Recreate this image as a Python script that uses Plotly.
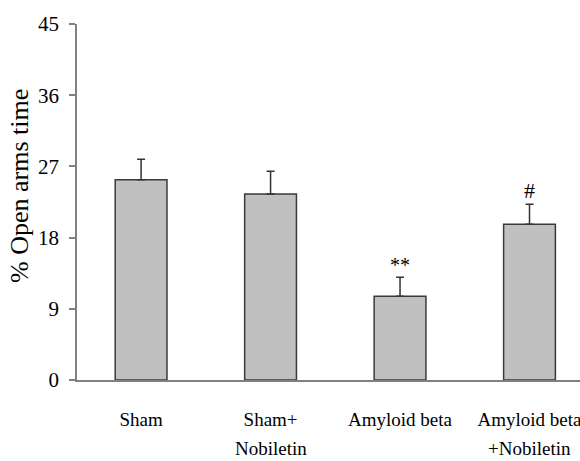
import plotly.graph_objects as go

categories = ["Sham", "Sham+", "Amyloid beta", "Amyloid beta"]
second_lines = ["", "Nobiletin", "", "+Nobiletin"]
values = [25.3, 23.5, 10.6, 19.7]
errors = [2.6, 2.9, 2.4, 2.5]
markers = ["", "", "**", "#"]
y_ticks = [0, 9, 18, 27, 36, 45]
y_title = "% Open arms time"

FONT = "Liberation Serif, Times New Roman, serif"
xs = list(range(len(categories)))

fig = go.Figure()
fig.add_trace(go.Bar(
    x=xs, y=values, width=0.40,
    marker=dict(color="#c0c0c0", line=dict(color="#3a3a3a", width=1.5)),
    error_y=dict(type="data", symmetric=False, array=errors,
                 arrayminus=[0] * len(errors),
                 color="#333333", thickness=1.5, width=4),
    showlegend=False,
))

annotations = []
for i, (m, v, e) in enumerate(zip(markers, values, errors)):
    if m:
        annotations.append(dict(
            x=i, y=v + e, xref="x", yref="y", text=m, showarrow=False,
            yanchor="bottom", yshift=-1,
            font=dict(family=FONT, size=22 if m == "#" else 20, color="black"),
        ))
for i, s in enumerate(second_lines):
    if s:
        annotations.append(dict(
            x=i, y=0, xref="x", yref="y", text=s, showarrow=False,
            yanchor="top", yshift=-56,
            font=dict(family=FONT, size=19, color="black"),
        ))
annotations.append(dict(
    x=0, y=0.545, xref="paper", yref="paper", text=y_title, showarrow=False,
    xanchor="center", yanchor="middle", xshift=-57, textangle=-90,
    font=dict(family=FONT, size=26, color="black"),
))

fig.update_layout(
    width=580, height=461,
    margin=dict(l=77, r=0, t=24, b=81, autoexpand=False),
    paper_bgcolor="white", plot_bgcolor="white",
    font=dict(family=FONT, size=19, color="black"),
    annotations=annotations,
    xaxis=dict(
        range=[-0.495, 3.39], tickmode="array", tickvals=xs, ticktext=categories,
        showline=True, linecolor="#808080", linewidth=2, ticks="",
        showgrid=False, zeroline=False, ticklabelstandoff=21,
        ticklabeloverflow="allow", automargin=False,
        tickfont=dict(family=FONT, size=19, color="black"),
    ),
    yaxis=dict(
        range=[0, 45], tickmode="array", tickvals=y_ticks,
        showline=True, linecolor="#808080", linewidth=1.5,
        ticks="outside", ticklen=6, tickcolor="#808080", tickwidth=1.5,
        showgrid=False, zeroline=False, automargin=False,
        ticklabelstandoff=6,
        tickfont=dict(family=FONT, size=21, color="black"),
    ),
)

fig.write_html("out.html", config={"displayModeBar": False},
               post_script="document.body.style.margin='0';")
